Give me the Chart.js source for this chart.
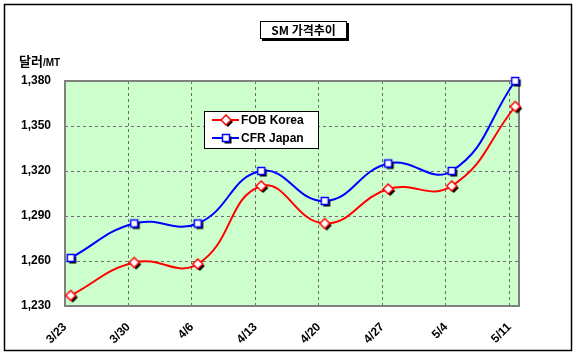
<!DOCTYPE html>
<html>
<head>
<meta charset="utf-8">
<script src="https://cdn.jsdelivr.net/npm/chart.js@4"></script>
<style>
  html, body { margin: 0; padding: 0; background: #fff; }
  #wrap { width: 576px; height: 359px; position: relative; }
</style>
</head>
<body>
<div id="wrap"><canvas id="chart-sm" width="576" height="359"></canvas></div>
<script>
// SM price trend, USD/MT
const weeks = ['3/23', '3/30', '4/6', '4/13', '4/20', '4/27', '5/4', '5/11'];
const fobKorea = [1237, 1259, 1258, 1310, 1285, 1308, 1310, 1363];
const cfrJapan = [1262, 1285, 1285, 1320, 1300, 1325, 1320, 1380];
const yTicks = [1230, 1260, 1290, 1320, 1350, 1380];
const seriesNames = ['FOB Korea', 'CFR Japan'];

const FONT = "'Liberation Sans', Arial, sans-serif";

// marker images with a black drop shadow, like the old office charts
function makeMarker(kind, color) {
    const c = document.createElement('canvas');
    const s = kind === 'square' ? 14 : 16;
    c.width = s; c.height = s;
    const g = c.getContext('2d');
    const m = s / 2;
    const shape = (dx, dy) => {
        g.beginPath();
        if (kind === 'square') {
            g.rect(m - 3.5 + dx, m - 3.5 + dy, 7, 7);
        } else {
            g.moveTo(m + dx, m - 5 + dy);
            g.lineTo(m + 5 + dx, m + dy);
            g.lineTo(m + dx, m + 5 + dy);
            g.lineTo(m - 5 + dx, m + dy);
            g.closePath();
        }
    };
    g.fillStyle = '#000';
    shape(2, 2); g.fill();
    g.fillStyle = '#fff';
    g.strokeStyle = color;
    g.lineWidth = 1.5;
    shape(0, 0); g.fill(); g.stroke();
    return c;
}

const diamondImg = makeMarker('diamond', '#ff0000');
const squareImg = makeMarker('square', '#0000ff');

const decorPlugin = {
    id: 'decor',
    beforeDraw(chart) {
        const { ctx, chartArea: a } = chart;
        ctx.save();
        ctx.fillStyle = '#ccffcc';
        ctx.fillRect(a.left, a.top, a.right - a.left, a.bottom - a.top);
        ctx.restore();
    },
    beforeDatasetsDraw(chart) {
        const { ctx, chartArea: a } = chart;
        ctx.save();
        // plot frame
        ctx.strokeStyle = '#808080';
        ctx.lineWidth = 2;
        ctx.strokeRect(a.left, a.top, a.right - a.left, a.bottom - a.top);
        ctx.restore();
    },
    afterDraw(chart) {
        const { ctx } = chart;
        ctx.save();
        // outer frame
        ctx.strokeStyle = '#000';
        ctx.lineWidth = 1.5;
        ctx.strokeRect(4.5, 4.5, 567, 346);

        // title box
        ctx.fillStyle = '#000';
        ctx.fillRect(262, 23, 87, 18);
        ctx.fillStyle = '#fff';
        ctx.fillRect(260, 21, 87, 18);
        ctx.strokeStyle = '#000';
        ctx.lineWidth = 1;
        ctx.strokeRect(260.5, 21.5, 86, 17);
        ctx.fillStyle = '#000';
        ctx.font = "bold 12px 'Noto Sans CJK KR', " + FONT;
        ctx.textAlign = 'center';
        ctx.textBaseline = 'middle';
        ctx.fillText('SM 가격추이', 303.5, 30.5);

        // y axis unit
        ctx.textAlign = 'left';
        ctx.textBaseline = 'alphabetic';
        ctx.font = "bold 13px 'Noto Sans CJK KR', sans-serif";
        ctx.fillText('달러', 19, 66);
        const w = ctx.measureText('달러').width;
        ctx.font = 'bold 10px ' + FONT;
        ctx.fillText('/MT', 19 + w, 66);

        // legend
        ctx.fillStyle = '#fff';
        ctx.fillRect(204, 111, 115, 38);
        ctx.strokeStyle = '#000';
        ctx.lineWidth = 1;
        ctx.strokeRect(204.5, 111.5, 114, 37);
        const rows = [
            { name: seriesNames[0], color: '#ff0000', img: diamondImg, y: 120 },
            { name: seriesNames[1], color: '#0000ff', img: squareImg, y: 138 }
        ];
        ctx.font = 'bold 12px ' + FONT;
        ctx.textBaseline = 'middle';
        rows.forEach(r => {
            ctx.strokeStyle = r.color;
            ctx.lineWidth = 2;
            ctx.beginPath();
            ctx.moveTo(212, r.y);
            ctx.lineTo(239, r.y);
            ctx.stroke();
            ctx.drawImage(r.img, 226 - r.img.width / 2, r.y - r.img.height / 2);
            ctx.fillStyle = '#000';
            ctx.fillText(r.name, 241, r.y + 1);
        });
        ctx.restore();
    }
};

new Chart(document.getElementById('chart-sm'), {
    type: 'line',
    data: {
        datasets: [
            {
                label: seriesNames[0],
                data: fobKorea.map((v, i) => ({ x: i, y: v })),
                borderColor: '#ff0000',
                borderWidth: 2,
                tension: 0.45,
                pointStyle: diamondImg,
                pointRadius: 5,
                clip: false
            },
            {
                label: seriesNames[1],
                data: cfrJapan.map((v, i) => ({ x: i, y: v })),
                borderColor: '#0000ff',
                borderWidth: 2,
                tension: 0.45,
                pointStyle: squareImg,
                pointRadius: 5,
                clip: false
            }
        ]
    },
    options: {
        responsive: false,
        animation: false,
        devicePixelRatio: 1,
        layout: { padding: { left: 0, top: 81, right: 57, bottom: 0 } },
        plugins: {
            legend: { display: false },
            tooltip: { enabled: false }
        },
        scales: {
            x: {
                type: 'linear',
                min: -0.09,
                max: 7.06,
                afterBuildTicks: s => { s.ticks = weeks.map((_, i) => ({ value: i - 0.09 })); },
                afterFit: s => { s.height = 53; },
                ticks: {
                    autoSkip: false,
                    minRotation: 45,
                    maxRotation: 45,
                    padding: 14,
                    color: '#000',
                    font: { family: FONT, size: 12, weight: 'bold' },
                    callback: (v, i) => weeks[i]
                },
                grid: { color: '#6e6e6e', lineWidth: 1, drawTicks: false },
                border: { display: true, color: '#808080', width: 0, dash: [3, 3] }
            },
            y: {
                min: yTicks[0],
                max: yTicks[yTicks.length - 1],
                afterBuildTicks: s => { s.ticks = yTicks.map(v => ({ value: v })); },
                afterFit: s => { s.width = 65; },
                ticks: {
                    padding: 14,
                    color: '#000',
                    font: { family: FONT, size: 12, weight: 'bold' },
                    callback: v => v.toLocaleString('en-US')
                },
                grid: { color: '#6e6e6e', lineWidth: 1, drawTicks: false },
                border: { display: true, color: '#808080', width: 0, dash: [3, 3] }
            }
        }
    },
    plugins: [decorPlugin]
});
</script>
</body>
</html>
